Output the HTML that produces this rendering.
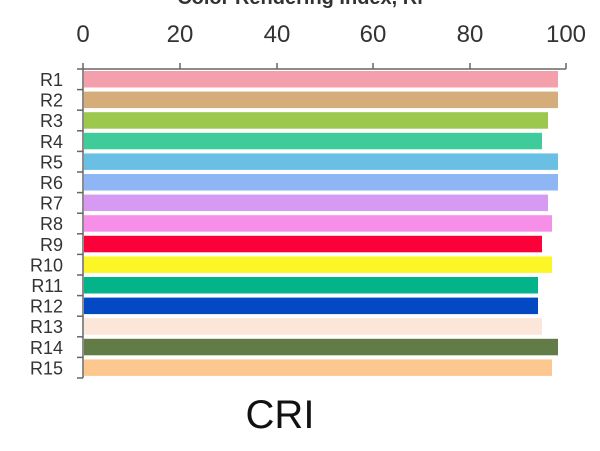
<!DOCTYPE html>
<html><head><meta charset="utf-8"><style>
html,body{margin:0;padding:0;background:#fff;width:600px;height:451px;overflow:hidden}
svg{display:block}
</style></head><body>
<svg width="600" height="451" viewBox="0 0 600 451" xmlns="http://www.w3.org/2000/svg" font-family="Liberation Sans, sans-serif">
<text x="300" y="4" text-anchor="middle" font-size="20" font-weight="bold" fill="#333">Color Rendering Index, Ri</text>
<g font-size="24" fill="#333" text-anchor="middle">
<text x="83" y="42">0</text><text x="180" y="42">20</text><text x="277" y="42">40</text>
<text x="373" y="42">60</text><text x="470" y="42">80</text><text x="566" y="42">100</text>
</g>
<g stroke="#666" stroke-width="1.5" fill="none">
<line x1="83" y1="69" x2="566" y2="69"/>
<line x1="83" y1="69" x2="83" y2="378"/>
<line x1="83" y1="63" x2="83" y2="69"/><line x1="180" y1="63" x2="180" y2="69"/><line x1="277" y1="63" x2="277" y2="69"/>
<line x1="373" y1="63" x2="373" y2="69"/><line x1="470" y1="63" x2="470" y2="69"/><line x1="566" y1="63" x2="566" y2="69"/>
</g>
<g id="bars"></g>
<g id="lab" font-size="18" fill="#333" text-anchor="end"></g>
<g id="tk" stroke="#666" stroke-width="1.5"></g>
<text x="280" y="428" text-anchor="middle" font-size="40" fill="#111">CRI</text>
<script>
var ends=[558,558,548,542,558,558,548,552,542,552,538,538,542,558,552];
var cols=["#f4a0ac","#d5ad7a","#9cc84e","#3fcc9a","#69c0e4","#8eb6f4","#d79af2","#f78fe9","#fc0039","#fdf626","#03b38a","#0249c3","#fce6da","#617c47","#fdc890"];
var ns="http://www.w3.org/2000/svg",b=document.getElementById("bars"),l=document.getElementById("lab"),t=document.getElementById("tk");
for(var i=0;i<15;i++){var y=69+i*20.6;
var r=document.createElementNS(ns,"rect");r.setAttribute("x",84);r.setAttribute("y",y+2);r.setAttribute("width",ends[i]-84);r.setAttribute("height",16.5);r.setAttribute("fill",cols[i]);b.appendChild(r);
var tx=document.createElementNS(ns,"text");tx.setAttribute("x",63);tx.setAttribute("y",y+17);tx.textContent="R"+(i+1);l.appendChild(tx);
var k=document.createElementNS(ns,"line");k.setAttribute("x1",77);k.setAttribute("x2",83);k.setAttribute("y1",y+20.6);k.setAttribute("y2",y+20.6);t.appendChild(k);}
var k0=document.createElementNS(ns,"line");k0.setAttribute("x1",77);k0.setAttribute("x2",83);k0.setAttribute("y1",69);k0.setAttribute("y2",69);t.appendChild(k0);
</script>
</svg>
</body></html>
